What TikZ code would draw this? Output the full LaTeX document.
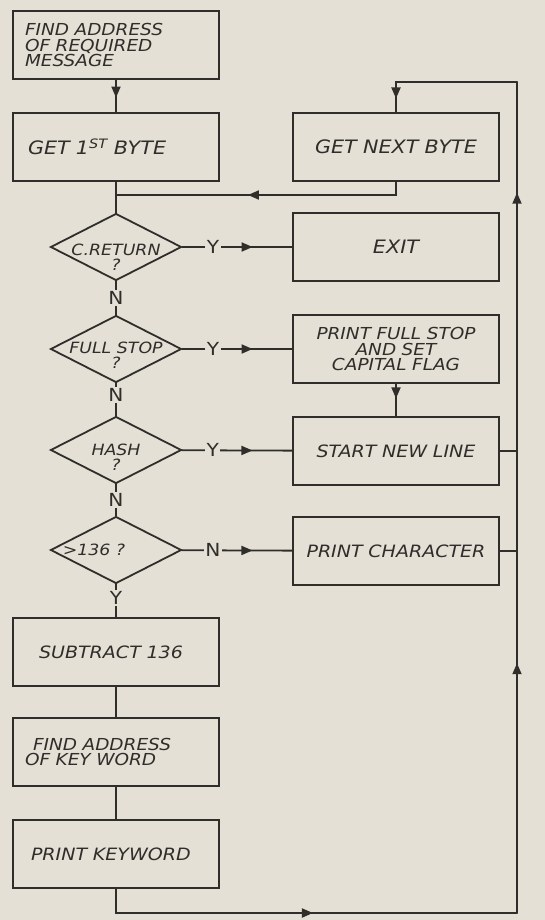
\documentclass[tikz,border=0pt]{standalone}
\usepackage{fontspec}
\setmainfont{DejaVu Sans}[FakeStretch=1.12]
\usetikzlibrary{shapes.geometric,arrows.meta,decorations.markings}
\definecolor{paper}{RGB}{228,224,214}
\definecolor{ink}{RGB}{48,46,42}
\tikzset{
  box/.style={draw=ink,line width=1.8pt,minimum width=206pt,minimum height=68pt,inner sep=0pt,
    text=ink,font=\itshape\fontsize{18.5}{18}\selectfont},
  leftbox/.style={box,align=left,text width=182pt},
  rightbox/.style={box,align=center,text width=200pt},
  multi/.style={font=\itshape\fontsize{16.5}{15.5}\selectfont},
  smaller/.style={font=\itshape\fontsize{17}{17}\selectfont},
  decision/.style={diamond,draw=ink,line width=1.8pt,minimum width=131pt,minimum height=67pt,inner sep=0pt},
  dtext/.style={align=center,text=ink,font=\itshape\fontsize{15.5}{14.5}\selectfont},
  yn/.style={fill=paper,inner sep=1.5pt,font=\fontsize{18}{18}\selectfont},
  link/.style={color=ink,line width=1.8pt,line cap=round},
  midarrow/.style={postaction={decorate},decoration={markings,
    mark=at position #1 with {\arrow{Triangle[length=11pt,width=9pt]}}}},
}
\begin{document}
\begin{tikzpicture}[x=1pt,y=-1pt]
  \useasboundingbox (0,0) rectangle (545,920);
  \fill[paper] (0,0) rectangle (545,920);
  \node[leftbox,multi] (msg) at (116,45) {FIND ADDRESS\\OF REQUIRED\\MESSAGE};
  \node[leftbox] (first) at (116,147) {\hspace*{3pt}GET 1\textsuperscript{ST} BYTE};
  \node[rightbox] (next) at (396,147) {GET NEXT BYTE};
  \node[decision] (cret) at (116,247) {};
  \node[dtext] at ([yshift=-10pt]cret.center) {C.RETURN\\?};
  \node[rightbox] (exit) at (396,247) {EXIT};
  \node[decision] (fstop) at (116,349) {};
  \node[dtext] at ([yshift=-6pt]fstop.center) {FULL STOP\\?};
  \node[rightbox,multi] (pstop) at (396,349) {PRINT FULL STOP\\AND SET\\CAPITAL FLAG};
  \node[decision] (hash) at (116,450) {};
  \node[dtext] at ([yshift=-7pt]hash.center) {HASH\\?};
  \node[rightbox,smaller] (newline) at (396,451) {START NEW LINE};
  \node[decision] (big) at (116,550) {};
  \node[dtext] at ([xshift=-22pt]big.center) {>136 ?};
  \node[rightbox,smaller] (pchar) at (396,551) {PRINT CHARACTER};
  \node[leftbox,smaller] (sub) at (116,652) {\hspace*{14pt}SUBTRACT 136};
  \node[leftbox,multi] (addr) at (116,752) {\hspace*{8pt}FIND ADDRESS\\OF KEY WORD};
  \node[leftbox,smaller] (pkey) at (116,854) {\hspace*{6pt}PRINT KEYWORD};
  \coordinate (merge) at (116,195);
  \coordinate (bot) at (517,913);
  \coordinate (top) at (517,82);
  \coordinate (jline) at (newline.east -| bot);
  \coordinate (jchar) at (pchar.east -| bot);
  \draw[link,midarrow=0.55] (msg) -- (first);
  \draw[link] (first) -- (cret);
  \draw[link,midarrow=0.55] (next.south) |- (merge);
  \draw[link,midarrow=0.64] (cret) -- node[yn,pos=0.28]{Y} (exit);
  \draw[link] (cret) -- node[yn]{N} (fstop);
  \draw[link,midarrow=0.64] (fstop) -- node[yn,pos=0.28]{Y} (pstop);
  \draw[link,midarrow=0.45] (pstop) -- (newline);
  \draw[link] (fstop) -- node[yn,pos=0.35]{N} (hash);
  \draw[link,midarrow=0.64] (hash) -- node[yn,pos=0.28]{Y} (newline);
  \draw[link] (hash) -- node[yn]{N} (big);
  \draw[link,midarrow=0.64] (big) -- node[yn,pos=0.28]{N} (pchar);
  \draw[link] (big) -- node[yn,pos=0.42]{Y} (sub);
  \draw[link] (sub) -- (addr);
  \draw[link] (addr) -- (pkey);
  \draw[link,midarrow=0.52] (pkey.south) |- (bot);
  \draw[link,midarrow=0.69] (bot) -- (jchar);
  \draw[link] (jchar) -- (jline);
  \draw[link,midarrow=0.7] (jline) -- (top);
  \draw[link] (newline) -- (jline);
  \draw[link] (pchar) -- (jchar);
  \draw[link,midarrow=0.91] (top) -| (next.north);
\end{tikzpicture}
\end{document}
